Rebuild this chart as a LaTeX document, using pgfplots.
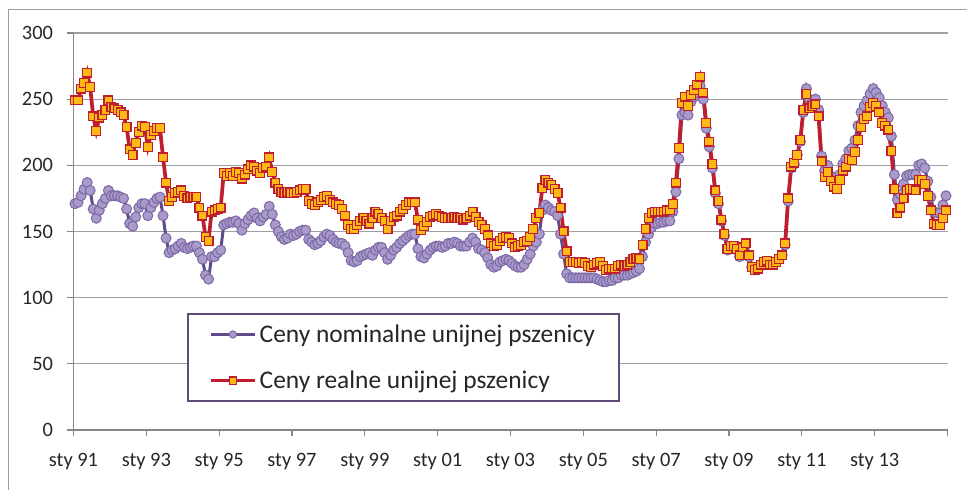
\documentclass[border=0pt]{standalone}
\usepackage{fontspec}
\setmainfont{Carlito}
\usepackage{pgfplots}
\usepackage{pgfplotstable}
\pgfplotsset{compat=1.18}
\definecolor{purpleline}{RGB}{95,75,139}
\definecolor{purplefill}{RGB}{169,154,202}
\definecolor{purpleedge}{RGB}{123,104,166}
\definecolor{redline}{RGB}{190,30,45}
\definecolor{sqfill}{RGB}{253,185,19}
\definecolor{gridgray}{RGB}{160,160,160}
\definecolor{axisgray}{RGB}{134,134,134}
\definecolor{legborder}{RGB}{96,74,123}

\pgfplotstableread{
nom real
171 249
172 249
177 258
182 262
187 270
181 259
167 237
160 226
166 236
171 238
175 242
181 249
177 244
177 243
177 242
176 240
175 238
167 229
156 212
154 208
161 217
168 225
171 230
171 229
162 214
168 223
172 226
175 228
176 228
162 206
145 187
134 173
136 176
137 179
139 180
141 181
138 177
137 175
138 176
139 176
139 176
134 168
129 162
117 146
114 143
131 165
131 166
134 167
136 168
155 194
156 192
157 194
157 192
158 195
156 194
151 190
156 193
159 197
162 200
164 199
160 196
158 194
161 198
163 199
169 206
163 195
155 187
150 182
146 180
144 179
145 180
148 179
147 179
148 180
150 181
151 182
151 182
144 173
142 171
140 170
141 172
143 174
146 176
148 177
147 174
144 172
142 171
141 170
141 167
139 162
134 155
128 152
127 152
128 155
131 158
132 160
133 158
134 156
132 160
136 165
138 163
138 160
134 158
129 152
132 158
136 161
138 162
141 165
143 167
145 170
147 172
148 172
148 172
137 159
131 151
130 154
133 157
136 161
138 162
139 163
139 162
138 161
139 160
141 160
141 160
142 161
141 160
139 160
139 159
139 160
142 162
145 165
142 161
137 157
136 155
134 152
130 147
125 141
123 139
124 140
127 143
128 145
129 146
128 145
126 141
124 138
123 139
123 140
125 142
129 143
133 146
139 152
142 160
148 164
166 183
170 189
168 187
166 185
165 182
162 179
148 168
133 150
118 135
115 127
115 127
115 127
115 126
115 127
115 126
115 124
115 123
115 125
114 126
113 127
112 124
112 121
113 122
113 122
115 122
115 124
117 125
117 124
117 125
118 127
119 129
120 130
122 129
131 140
142 152
148 160
153 164
156 165
156 165
157 165
157 165
158 166
158 166
165 171
180 187
205 213
238 247
240 252
238 245
248 253
252 257
255 261
260 267
250 255
228 232
214 218
198 201
179 181
171 173
158 159
147 148
136 137
138 139
138 139
136 137
131 132
137 138
140 141
131 132
123 123
121 121
122 122
124 125
126 127
127 128
125 125
125 125
127 127
129 129
132 132
140 141
173 175
198 199
201 202
208 208
218 219
240 242
258 254
250 243
248 245
250 246
242 237
207 203
196 191
200 195
192 188
188 184
186 182
193 189
201 196
205 199
211 205
213 204
219 210
230 219
240 229
245 235
249 237
254 244
258 247
255 245
251 240
245 232
240 230
236 227
222 211
193 182
174 164
178 168
186 175
192 181
193 182
193 182
193 181
200 189
201 189
198 186
188 177
176 166
165 156
164 155
164 155
170 160
177 166
}\wheat

\begin{document}
\begin{tikzpicture}
\useasboundingbox (-73.5bp,-60bp) rectangle (893.5bp,430bp);
\draw[axisgray!80, line width=0.9bp] (-65.5bp,-80bp) -- (-65.5bp,421bp) -- (910bp,421bp);
\begin{axis}[
  at={(0,0)}, anchor=south west,
  width=874bp, height=397bp, scale only axis,
  xmin=0, xmax=288, ymin=0, ymax=300,
  axis x line*=bottom, axis y line*=left,
  axis line style={axisgray, line width=1.3bp},
  xtick={0,24,...,288},
  xticklabels={sty 91,sty 93,sty 95,sty 97,sty 99,sty 01,sty 03,sty 05,sty 07,sty 09,sty 11,sty 13,{}},
  ytick={0,50,...,300},
  tick align=outside,
  major tick length=6bp,
  tick style={axisgray, line width=1.2bp},
  ymajorgrids,
  grid style={gridgray, line width=1.3bp},
  /pgf/number format/assume math mode=true,
  tick label style={font=\fontsize{20.5}{24}\selectfont, text=black!85},
  yticklabel style={xshift=-11bp},
  xticklabel style={yshift=-14bp},
  legend cell align=left,
  legend style={at={(0.130,0.2947)}, anchor=north west,
    draw=legborder, line width=1.8bp, fill=white,
    font=\fontsize{25.5}{30}\selectfont, text=black!85,
    inner xsep=21bp, inner ysep=7bp, row sep=19bp,
    nodes={inner xsep=3bp, inner ysep=4bp}},
  legend image code/.code={\draw[#1, mark size=3.6bp, mark repeat=2, mark phase=2] plot coordinates {(0bp,0bp) (22bp,0bp) (44bp,0bp)};},
]
\addplot[purpleline, line width=3bp, mark=*, mark size=5bp,
  mark options={fill=purplefill, draw=purpleedge, line width=1bp, solid}]
  table[x expr=\coordindex+0.5, y=nom] {\wheat};
\addlegendentry{Ceny nominalne unijnej pszenicy}
\addplot[redline, line width=3.7bp, mark=square*, mark size=4.4bp,
  mark options={fill=sqfill, draw=redline, line width=1.2bp, solid}]
  table[x expr=\coordindex+0.5, y=real] {\wheat};
\addlegendentry{Ceny realne unijnej pszenicy}
\end{axis}
\end{tikzpicture}
\end{document}
